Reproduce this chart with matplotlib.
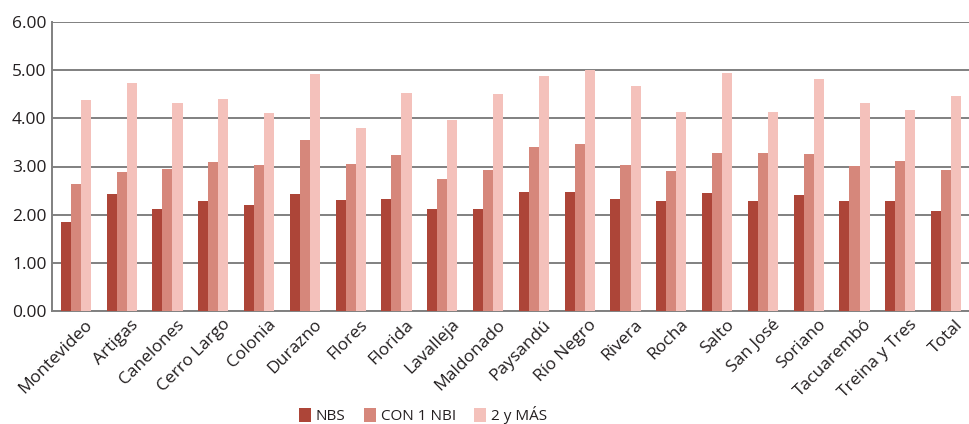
import matplotlib.pyplot as plt
import matplotlib.transforms as mtransforms
import numpy as np

departments = ["Montevideo", "Artigas", "Canelones", "Cerro Largo", "Colonia",
               "Durazno", "Flores", "Florida", "Lavalleja", "Maldonado",
               "Paysandú", "Río Negro", "Rivera", "Rocha", "Salto", "San José",
               "Soriano", "Tacuarembó", "Treina y Tres", "Total"]
nbs = [1.85, 2.43, 2.12, 2.29, 2.20, 2.43, 2.31, 2.33, 2.12, 2.12,
       2.47, 2.47, 2.33, 2.29, 2.45, 2.29, 2.41, 2.29, 2.29, 2.08]
con1 = [2.64, 2.89, 2.95, 3.09, 3.03, 3.55, 3.05, 3.24, 2.74, 2.93,
        3.40, 3.47, 3.03, 2.91, 3.28, 3.28, 3.26, 3.01, 3.11, 2.93]
dos_mas = [4.38, 4.73, 4.32, 4.40, 4.11, 4.92, 3.80, 4.52, 3.96, 4.50,
           4.88, 5.01, 4.67, 4.13, 4.94, 4.13, 4.81, 4.32, 4.17, 4.46]
series_labels = ["NBS", "CON 1 NBI", "2 y MÁS"]
y_ticks = [0, 1, 2, 3, 4, 5, 6]

colors = ["#ad4538", "#d6877b", "#f4c1bb"]
text_color = "#231f20"
grid_color = "#808080"

plt.rcParams['font.family'] = ['Open Sans', 'DejaVu Sans']

fig = plt.figure(figsize=(9.69, 4.24), dpi=100)
ax = fig.add_axes([52 / 969, 1 - 311 / 424, 1 - 52 / 969, (311 - 22) / 424])

x = np.arange(len(departments))
w = 0.22
for i, vals in enumerate([nbs, con1, dos_mas]):
    ax.bar(x + (i - 1) * w, vals, width=w, color=colors[i],
           label=series_labels[i], zorder=3)

ax.set_xlim(-0.52, len(departments) - 0.5)
ax.set_ylim(0, 6)
ax.set_yticks(y_ticks)
ax.set_yticklabels(["%.2f" % v for v in y_ticks], color=text_color, fontsize=12.5)
ax.yaxis.grid(True, color=grid_color, linewidth=1.4, zorder=0)
ax.tick_params(axis='both', length=0, pad=4)

ax.set_xticks(x)
ax.set_xticklabels(departments, rotation=45, ha='right', rotation_mode='anchor',
                   color=text_color, fontsize=12.5)
offset = mtransforms.ScaledTranslation(9 / 100, 0, fig.dpi_scale_trans)
for lbl in ax.get_xticklabels():
    lbl.set_transform(lbl.get_transform() + offset)

for side in ['top', 'right']:
    ax.spines[side].set_visible(False)
for side in ['left', 'bottom']:
    ax.spines[side].set_color(grid_color)
    ax.spines[side].set_linewidth(1.4)

leg = ax.legend(loc='center', bbox_to_anchor=(423 / 969, 1 - 415 / 424),
                bbox_transform=fig.transFigure, ncol=3, frameon=False,
                handlelength=0.8, handleheight=1.0, handletextpad=0.3,
                columnspacing=1.2, fontsize=11)
for t in leg.get_texts():
    t.set_color(text_color)

fig.savefig("out.png", dpi=100)
